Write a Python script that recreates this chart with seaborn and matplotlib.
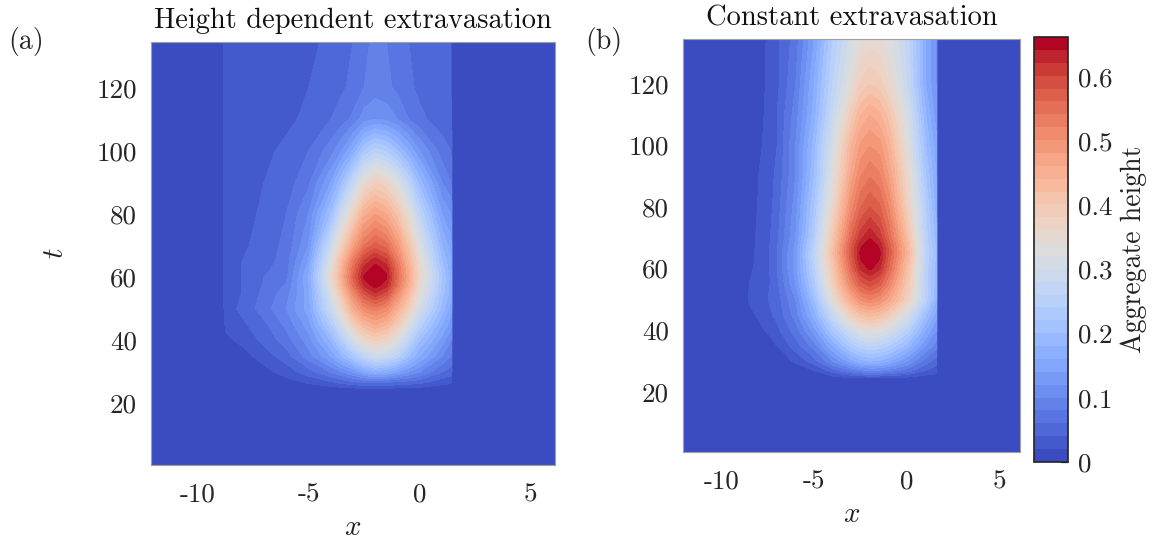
import numpy as np
import matplotlib
matplotlib.use("Agg")
import matplotlib.pyplot as plt
from matplotlib.colors import ListedColormap
import seaborn as sns

# ---------------- data ----------------
# panel (a): height dependent extravasation
x_nodes_a = [-12.1, -9.0, -8.7, -8, -7, -6, -5, -4, -3.5, -3, -2.5, -2, -1.5, -1, -0.5, 0, 1, 1.4, 1.48, 6.1]
t_nodes_a = [0.5, 24, 27, 30, 35, 40, 45, 50, 55, 57.5, 60, 62.5, 65, 70, 80, 90, 100, 110, 120, 134.5]
height_a = [
    [0, 0, 0, 0, 0, 0, 0, 0, 0, 0, 0, 0, 0, 0, 0, 0, 0, 0, 0, 0],
    [0, 0, 0, 0, 0, 0, 0, 0, 0, 0, 0, 0, 0, 0, 0, 0, 0, 0, 0, 0],
    [0, 0, 0, 0, 0, .012, .025, .04, .05, .06, .067, .07, .067, .06, .055, .05, .03, .025, 0, 0],
    [0, 0, 0, 0, .012, .03, .05, .08, .10, .12, .15, .17, .16, .14, .12, .10, .06, .05, 0, 0],
    [0, 0, 0, .01, .03, .05, .09, .14, .18, .22, .265, .29, .28, .25, .20, .16, .10, .08, 0, 0],
    [0, 0, .015, .025, .045, .07, .11, .18, .24, .30, .355, .38, .365, .32, .26, .20, .13, .10, 0, 0],
    [0, 0, .025, .035, .055, .085, .13, .23, .30, .38, .435, .46, .44, .39, .32, .25, .16, .13, 0, 0],
    [0, 0, .03, .045, .07, .10, .15, .28, .36, .45, .51, .53, .51, .45, .38, .30, .19, .15, 0, 0],
    [0, 0, .03, .04, .065, .09, .15, .31, .41, .51, .585, .62, .59, .51, .43, .34, .21, .17, 0, 0],
    [0, 0, .03, .04, .062, .082, .155, .33, .44, .545, .625, .652, .63, .54, .45, .35, .215, .17, 0, 0],
    [0, 0, .03, .04, .06, .075, .16, .34, .45, .56, .645, .662, .645, .55, .46, .36, .22, .17, 0, 0],
    [0, 0, .03, .04, .055, .072, .15, .335, .445, .55, .63, .652, .635, .545, .455, .355, .21, .165, 0, 0],
    [0, 0, .03, .04, .05, .07, .14, .32, .43, .53, .605, .635, .61, .53, .44, .35, .20, .16, 0, 0],
    [0, 0, .03, .035, .05, .065, .12, .28, .38, .47, .54, .57, .55, .49, .41, .32, .18, .15, 0, 0],
    [0, 0, .03, .03, .045, .06, .10, .20, .29, .37, .45, .48, .46, .41, .34, .26, .14, .12, 0, 0],
    [0, 0, .03, .03, .04, .05, .075, .14, .20, .27, .345, .38, .365, .32, .26, .19, .10, .08, 0, 0],
    [0, 0, .03, .03, .035, .045, .06, .09, .12, .16, .22, .25, .235, .20, .16, .12, .07, .06, 0, 0],
    [0, 0, .03, .03, .03, .035, .045, .06, .07, .085, .11, .12, .115, .10, .08, .065, .05, .045, 0, 0],
    [0, 0, .03, .03, .03, .03, .04, .05, .057, .065, .08, .09, .085, .075, .065, .055, .045, .04, 0, 0],
    [0, 0, .03, .03, .03, .03, .035, .045, .052, .06, .075, .085, .08, .07, .06, .05, .045, .04, 0, 0],
]

# panel (b): constant extravasation
x_nodes_b = [-12.1, -8.8, -8.5, -8, -7.5, -7, -6, -5, -4, -3.5, -3, -2.5, -2, -1.5, -1, -0.5, 0, 1, 1.55, 1.63, 6.1]
t_nodes_b = [0.5, 24, 27, 30, 35, 40, 45, 50, 55, 60, 62.5, 65, 67.5, 70, 80, 90, 100, 110, 120, 134.5]
height_b = [
    [0, 0, 0, 0, 0, 0, 0, 0, 0, 0, 0, 0, 0, 0, 0, 0, 0, 0, 0, 0, 0],
    [0, 0, 0, 0, 0, 0, 0, 0, 0, 0, 0, 0, 0, 0, 0, 0, 0, 0, 0, 0, 0],
    [0, 0, 0, 0, 0, 0, 0, .02, .05, .065, .08, .093, .10, .097, .09, .08, .07, .04, .03, 0, 0],
    [0, 0, 0, 0, 0, 0, .025, .05, .10, .125, .15, .17, .18, .175, .16, .14, .12, .07, .05, 0, 0],
    [0, 0, 0, 0, 0, .02, .05, .09, .16, .195, .23, .252, .26, .255, .24, .215, .19, .12, .09, 0, 0],
    [0, 0, 0, .01, .025, .035, .07, .13, .22, .26, .30, .33, .34, .33, .31, .28, .25, .16, .12, 0, 0],
    [0, 0, .01, .025, .035, .045, .09, .17, .28, .33, .38, .415, .43, .42, .39, .35, .31, .20, .15, 0, 0],
    [0, 0, .025, .03, .04, .05, .10, .20, .34, .40, .46, .505, .52, .505, .47, .425, .38, .25, .18, 0, 0],
    [0, 0, .02, .028, .035, .055, .12, .23, .38, .45, .52, .57, .59, .57, .52, .46, .40, .25, .19, 0, 0],
    [0, 0, .015, .027, .035, .06, .13, .25, .40, .48, .56, .625, .645, .625, .56, .49, .42, .25, .19, 0, 0],
    [0, 0, .013, .026, .035, .06, .13, .255, .41, .49, .57, .64, .656, .64, .57, .50, .43, .255, .195, 0, 0],
    [0, 0, .012, .026, .035, .06, .13, .26, .42, .50, .58, .647, .662, .647, .58, .51, .44, .26, .20, 0, 0],
    [0, 0, .011, .025, .035, .058, .125, .25, .41, .495, .575, .638, .653, .638, .575, .505, .435, .255, .195, 0, 0],
    [0, 0, .01, .025, .035, .055, .12, .24, .40, .48, .56, .615, .64, .615, .56, .49, .42, .25, .19, 0, 0],
    [0, 0, .005, .022, .03, .05, .11, .22, .36, .435, .51, .56, .58, .565, .52, .45, .38, .24, .17, 0, 0],
    [0, 0, 0, .02, .03, .045, .10, .20, .33, .40, .47, .52, .54, .525, .48, .42, .36, .22, .16, 0, 0],
    [0, 0, 0, .015, .028, .04, .10, .19, .31, .375, .44, .485, .50, .49, .45, .39, .33, .20, .15, 0, 0],
    [0, 0, 0, .01, .027, .04, .09, .17, .28, .335, .39, .44, .46, .445, .41, .36, .31, .18, .13, 0, 0],
    [0, 0, 0, .005, .026, .035, .08, .16, .26, .30, .34, .385, .40, .39, .36, .32, .28, .16, .12, 0, 0],
    [0, 0, 0, 0, .025, .035, .07, .14, .24, .275, .31, .34, .35, .345, .33, .30, .27, .16, .12, 0, 0],
]

titles = ["Height dependent extravasation", "Constant extravasation"]
panel_tags = ["(a)", "(b)"]
x_ticks = [-10, -5, 0, 5]
x_tick_labels = ["-10", "-5", "0", "5"]
t_ticks = [20, 40, 60, 80, 100, 120]
t_tick_labels = ["20", "40", "60", "80", "100", "120"]
cbar_ticks = [0, 0.1, 0.2, 0.3, 0.4, 0.5, 0.6]
cbar_tick_labels = ["0", "0.1", "0.2", "0.3", "0.4", "0.5", "0.6"]
cbar_label = "Aggregate height"
color_max = 0.662
n_bands = 33

# ---------------- style ----------------
sns.set_theme(style="white")
plt.rcParams["font.family"] = ["cmr10", "DejaVu Serif"]
plt.rcParams["mathtext.fontset"] = "cm"
plt.rcParams["axes.unicode_minus"] = False

cmap = ListedColormap(sns.color_palette("coolwarm", as_cmap=True)(np.linspace(0, 1, n_bands)))
levels = np.linspace(0, color_max, n_bands + 1)

W, H = 1152, 545
fig = plt.figure(figsize=(W / 100, H / 100), dpi=100)
ax_a = fig.add_axes([151 / W, (H - 465) / H, 404 / W, 423 / H])
ax_b = fig.add_axes([683 / W, (H - 452) / H, 337 / W, 413 / H])
cax = fig.add_axes([1034 / W, (H - 462) / H, 34 / W, 425 / H])

cs = None
for ax, xs, ts, zz, title in [(ax_a, x_nodes_a, t_nodes_a, height_a, titles[0]),
                              (ax_b, x_nodes_b, t_nodes_b, height_b, titles[1])]:
    X, T = np.meshgrid(np.array(xs), np.array(ts))
    Z = np.array(zz)
    ax.set_facecolor(cmap(0))
    cs = ax.contourf(X, T, Z, levels=levels, cmap=cmap)
    cs.set_edgecolor("face")
    cs.set_linewidth(0.4)
    ax.set_xlim(-12.1, 6.1)
    ax.set_ylim(0.5, 134.5)
    ax.set_xticks(x_ticks)
    ax.set_xticklabels(x_tick_labels)
    ax.set_yticks(t_ticks)
    ax.set_yticklabels(t_tick_labels)
    ax.tick_params(axis="both", length=0, labelsize=19.5, colors="#262626")
    ax.tick_params(axis="x", pad=13)
    ax.tick_params(axis="y", pad=10)
    for sp in ax.spines.values():
        sp.set_color("#a0a0a0")
        sp.set_linewidth(0.8)
    ax.set_title(title, fontsize=20.5, pad=10, color="#111111")
    ax.set_xlabel("$x$", fontsize=21, labelpad=6, color="#222222")

ax_a.set_ylabel("$t$", fontsize=21, labelpad=20, color="#222222")

cb = fig.colorbar(cs, cax=cax, ticks=cbar_ticks)
cb.set_ticklabels(cbar_tick_labels)
cb.ax.tick_params(direction="in", length=5, width=0.9, color="#222222",
                  labelsize=19.5, pad=7, right=True, left=False)
cb.outline.set_edgecolor("#222222")
cb.outline.set_linewidth(1.2)
cb.set_label(cbar_label, fontsize=20, labelpad=6, color="#222222")

fig.text(8 / W, 1 - 42 / H, panel_tags[0], fontsize=20, va="center", ha="left")
fig.text(585 / W, 1 - 42 / H, panel_tags[1], fontsize=20, va="center", ha="left")

fig.savefig("out.png", dpi=100)
